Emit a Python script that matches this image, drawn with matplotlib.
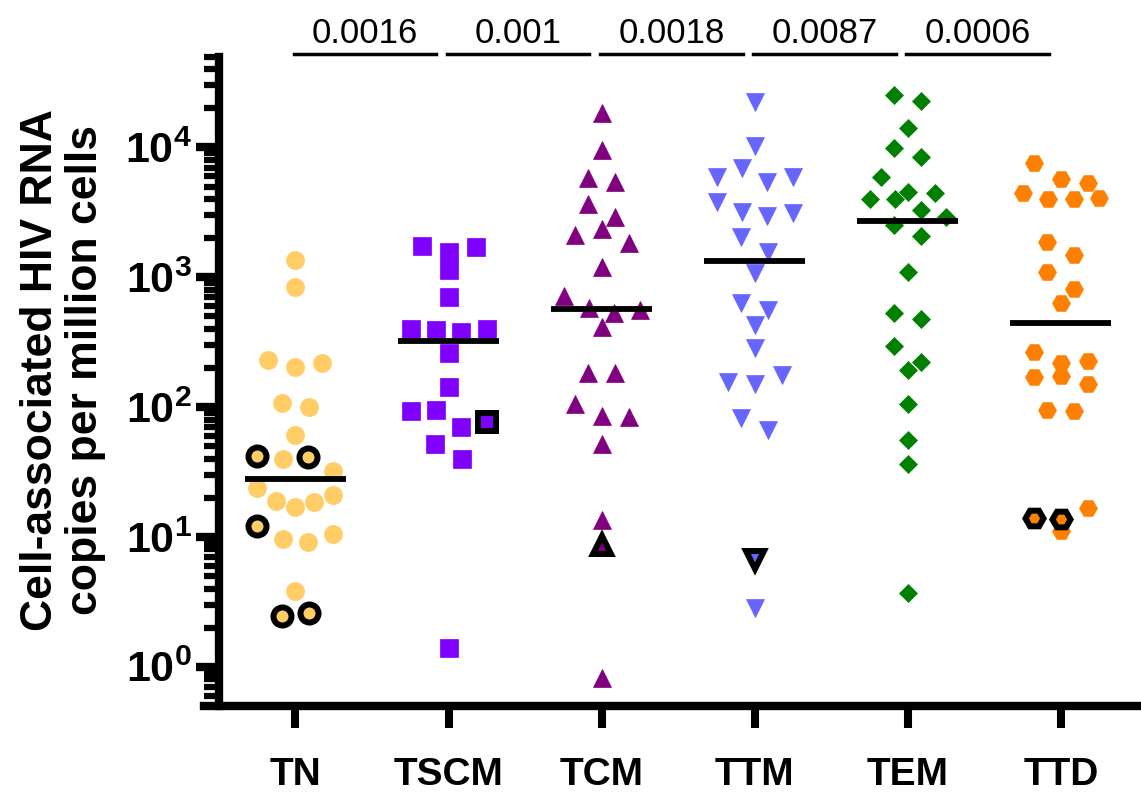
import numpy as np
import matplotlib.pyplot as plt
from matplotlib.ticker import LogLocator, NullFormatter
import matplotlib.transforms as mtransforms

plt.rcParams['font.family'] = ['Liberation Sans', 'DejaVu Sans']
plt.rcParams['mathtext.fontset'] = 'custom'
plt.rcParams['mathtext.rm'] = 'Liberation Sans'
plt.rcParams['mathtext.bf'] = 'Liberation Sans:bold'

groups = ["TN", "TSCM", "TCM", "TTM", "TEM", "TTD"]
colors = ["#FFCC66", "#8000FF", "#800080", "#6666FF", "#008000", "#FF8000"]
markers = ["o", "s", "^", "v", "D", "H"]

# values (copies per million cells)
tn = [1361, 848, 231, 205, 220, 108, 100, 61, 42, 40, 41, 32, 24, 18.9,
      16.9, 18.7, 21, 12.1, 9.6, 9.2, 10.6, 3.85, 2.46, 2.6]
tscm = [1740, 1566, 1710, 1132, 706, 396, 390, 380, 396, 262, 143, 93.6,
        95, 69.8, 76.3, 51.6, 40, 1.39]
tcm = [18500, 9560, 5790, 5400, 3690, 2930, 2120, 2355, 1830, 1208, 721,
       583, 533, 560, 412, 182, 184, 106, 86, 84, 52, 13.5, 8.6, 0.82]
ttm = [22500, 10280, 5960, 6920, 5400, 5960, 3826, 3200, 2950, 3110, 2033,
       1575, 1072, 630, 560, 429, 284, 157, 151, 177, 83, 66.5, 6.6, 2.82]
tem = [25400, 22800, 14200, 9860, 8400, 5890, 4570, 4010, 3990, 4490, 3300,
       2897, 2530, 2090, 1092, 528, 477, 297, 224, 192, 106, 55.5, 36.3, 3.72]
ttd = [7550, 5710, 5360, 4490, 3990, 3990, 4060, 1860, 1485, 1105, 813, 630,
       264, 217, 228, 170, 174, 151, 95, 93.4, 13.9, 11.1, 13.7, 16.8]
data = [tn, tscm, tcm, ttm, tem, ttd]

# indices of the points drawn with a black ring
ringed = [[8, 10, 17, 22, 23], [14], [22], [22], [], [20, 22]]

p_values = ["0.0016", "0.001", "0.0018", "0.0087", "0.0006"]

px = 1 / 100
fig = plt.figure(figsize=(1141 * px, 796 * px), dpi=100)
ax = fig.add_axes([0.1919, 0.1133, 0.805, 0.8155])
ax.set_yscale('log')
ax.set_xlim(-0.5, 5.5)
ax.set_ylim(0.5, 50000)


def column_scatter(ax, xc, vals, row_h=20.0, gap=27.0, half_w=38.0):
    # points whose heights are within one marker are put in a row and spread out
    vals = np.asarray(vals, float)
    ypx = ax.transData.transform(np.column_stack([np.full(len(vals), xc), vals]))[:, 1]
    order = sorted(range(len(vals)), key=lambda j: -ypx[j])
    offs = np.zeros(len(vals))
    rows = []
    for j in order:
        if rows and rows[-1][0] - ypx[j] < row_h:
            rows[-1][1].append(j)
        else:
            rows.append([ypx[j], [j]])
    for _, row in rows:
        row = sorted(row)
        n = len(row)
        if n > 1:
            step = min(gap, 2 * half_w / (n - 1))
            for k, j in enumerate(row):
                offs[j] = (k - (n - 1) / 2) * step
    unit = ax.transData.transform([(1, 1)])[0, 0] - ax.transData.transform([(0, 1)])[0, 0]
    return xc + offs / unit


for i, vals in enumerate(data):
    xs = column_scatter(ax, i, vals)
    ys = np.asarray(vals, float)
    ms = 9.3 if markers[i] == "D" else 13
    ax.plot(xs, ys, linestyle='none', marker=markers[i], ms=ms,
            mfc=colors[i], mec=colors[i], mew=0.5, zorder=3)
    if ringed[i]:
        r = ringed[i]
        ax.plot(xs[r], ys[r], linestyle='none', marker=markers[i], ms=ms,
                mfc=colors[i], mec='black', mew=4.3, zorder=4)
    med = np.median(ys)
    ax.hlines(med, i - 0.33, i + 0.33, color='black', lw=4.2, zorder=5)

# significance bars between neighbouring columns
trans = mtransforms.blended_transform_factory(ax.transData, ax.transAxes)
for i, p in enumerate(p_values):
    ax.plot([i - 0.01, i + 0.92], [1.004, 1.004], color='black', lw=2.5,
            transform=trans, clip_on=False)
    ax.text(i + 0.455, 1.021, p, transform=trans, ha='center', va='baseline',
            fontsize=25)

for s in ['top', 'right']:
    ax.spines[s].set_visible(False)
for s in ['left', 'bottom']:
    ax.spines[s].set_linewidth(6)
ax.spines['bottom'].set_bounds(-0.6, 5.5)

ax.set_xticks(range(len(groups)))
ax.set_xticklabels(groups, fontsize=28, fontweight='bold')
ax.tick_params(axis='x', length=16, width=5.8, pad=21)

ax.yaxis.set_minor_locator(LogLocator(base=10, subs=np.arange(2, 10), numticks=20))
ax.yaxis.set_minor_formatter(NullFormatter())
ax.set_yticks([1, 10, 100, 1000, 10000])
ax.set_yticklabels([r'$\mathbf{10^{%d}}$' % k for k in range(5)], fontsize=31)
ax.tick_params(axis='y', which='major', length=16.5, width=6, pad=3)
ax.tick_params(axis='y', which='minor', length=11, width=4.5)

fig.text(63 / 1141, 1 - 370 / 796,
         "Cell-associated HIV RNA\ncopies per million cells",
         rotation=90, ha='center', va='center', fontsize=32,
         fontweight='bold', linespacing=1.1, multialignment='center')

plt.savefig("out.png", dpi=100)
